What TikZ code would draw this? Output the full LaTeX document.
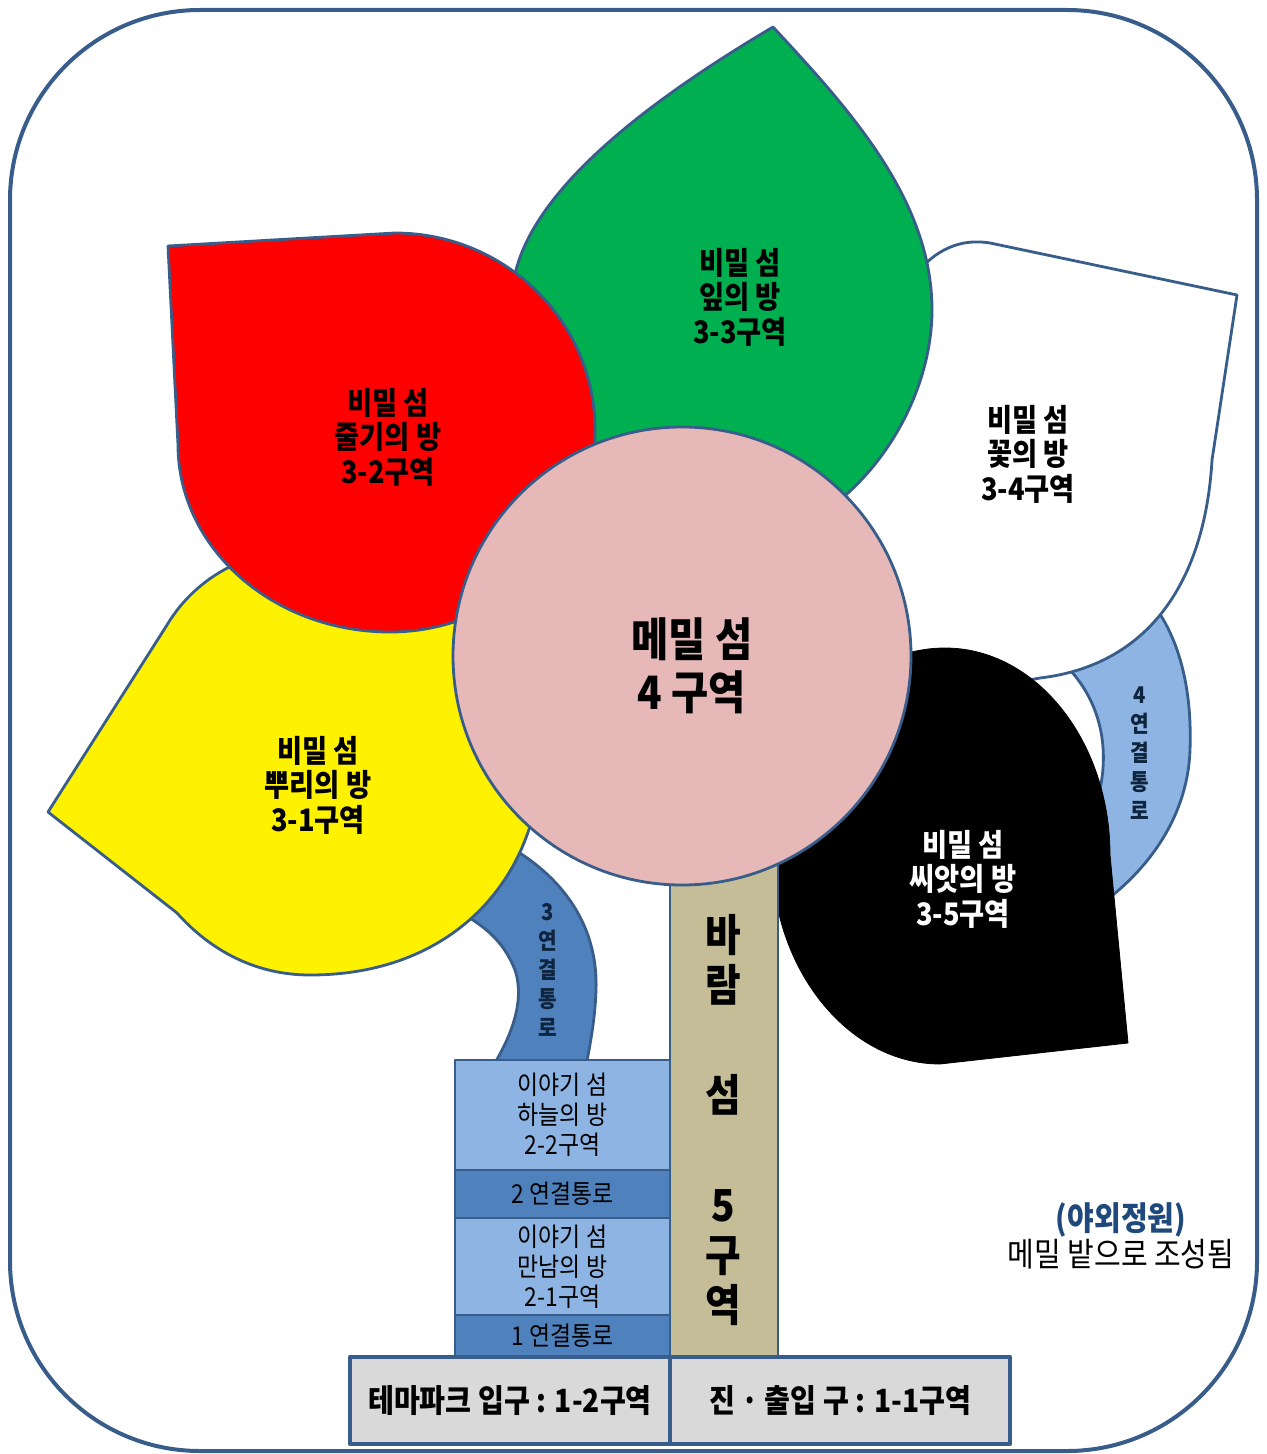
\documentclass[tikz,border=0pt]{standalone}
\usepackage{fontspec}
\setmainfont[FakeStretch=0.88]{Noto Sans CJK KR}
\definecolor{edgeblue}{RGB}{56,93,138}
\definecolor{leafgreen}{RGB}{0,176,80}
\definecolor{pinkc}{RGB}{230,185,184}
\definecolor{stemtan}{RGB}{196,189,151}
\definecolor{lblue}{RGB}{141,180,226}
\definecolor{mblue}{RGB}{79,129,189}
\definecolor{lgray}{RGB}{217,217,217}
\definecolor{navytxt}{RGB}{31,73,125}
\definecolor{darktxt}{RGB}{15,36,62}
\begin{document}
\begin{tikzpicture}[x=0.5pt,y=-0.5pt,line join=round,
  outl/.style={draw=edgeblue,line width=1.4pt},
  leaflbl/.style={align=center,font=\fontsize{15.5}{17.25}\selectfont\bfseries,inner sep=0},
  arclbl/.style={align=center,text=darktxt,font=\fontsize{11.5}{14.5}\selectfont\bfseries,inner sep=0},
  lbox/.style={draw=edgeblue,line width=1.2pt,minimum width=107.5pt,inner sep=0,outer sep=0,align=center,font=\fontsize{13}{15}\selectfont},
  gbox/.style={draw=edgeblue,line width=2.2pt,fill=lgray,minimum height=43.5pt,inner sep=0,outer sep=0,font=\fontsize{16}{18}\selectfont\bfseries}]
\useasboundingbox (0,0) rectangle (1266,1454);
% outer frame
\draw[edgeblue,line width=2pt,rounded corners=95pt] (10,10) rectangle (1257,1451);
% connector 3 (arc)
\draw[outl,fill=mblue] (490,860) -- (515,850) .. controls (572,885) and (598,935) .. (596,990)
  .. controls (595,1020) and (590,1045) .. (586,1066) -- (493,1066)
  .. controls (512,1035) and (525,1000) .. (515,970) .. controls (505,945) and (490,930) .. (465,915) -- cycle;
% connector 4 (arc)
\draw[outl,fill=lblue] (1060,660) -- (1150,600) .. controls (1182,640) and (1192,695) .. (1190,750)
  .. controls (1188,810) and (1155,865) .. (1100,905) -- (1090,820)
  .. controls (1112,770) and (1110,705) .. (1060,660) -- cycle;
% white leaf 3-4
\draw[outl,fill=white] (915,275) .. controls (935,250) and (960,238) .. (990,243) -- (1237,295) -- (1212,460)
  .. controls (1205,580) and (1150,665) .. (1040,678) .. controls (980,690) and (930,680) .. (900,640)
  -- (820,500) -- (850,300) -- cycle;
% green leaf 3-3
\draw[outl,fill=leafgreen] (773,27) .. controls (850,110) and (932,200) .. (932,310)
  .. controls (932,420) and (840,545) .. (722,545) .. controls (610,545) and (512,420) .. (512,300)
  .. controls (512,200) and (650,100) .. (773,27) -- cycle;
% yellow leaf 3-1
\draw[outl,fill=yellow] (48,812) -- (167,625) .. controls (200,570) and (260,545) .. (330,545)
  .. controls (450,545) and (540,650) .. (540,760) .. controls (540,870) and (460,975) .. (310,975)
  .. controls (255,975) and (210,950) .. (177,913) -- cycle;
% red leaf 3-2
\draw[outl,fill=red] (168,246) -- (395,233) .. controls (505,233) and (595,321) .. (595,430)
  .. controls (595,542) and (503,632) .. (390,632) .. controls (273,632) and (178,548) .. (178,445) -- cycle;
% black leaf 3-5
\draw[draw=black,fill=black] (945,648) .. controls (1036,648) and (1110,741) .. (1110,855) -- (1128,1043) -- (940,1064)
  .. controls (848,1064) and (772,969) .. (772,855) .. controls (772,741) and (852,648) .. (945,648) -- cycle;
% stem
\node[draw=edgeblue,line width=1.2pt,fill=stemtan,minimum width=54pt,minimum height=253.5pt,inner sep=0] (stem) at (724,1103.5) {};
% centre circle
\node[circle,draw=edgeblue,line width=1.4pt,fill=pinkc,minimum size=229pt,inner sep=0] (mem) at (682,656) {};
% left boxes
\node[lbox,fill=lblue,minimum height=55pt] (b22) at (562.5,1115) {이야기 섬\\하늘의 방\\2-2구역};
\node[lbox,fill=mblue,minimum height=24pt] (c2) at (562.5,1194) {2 연결통로};
\node[lbox,fill=lblue,minimum height=48.5pt] (b21) at (562.5,1266.5) {이야기 섬\\만남의 방\\2-1구역};
\node[lbox,fill=mblue,minimum height=21pt] (c1) at (562.5,1336) {1 연결통로};
% bottom boxes
\node[gbox,minimum width=160pt] (e12) at (510,1400.5) {테마파크 입구 : 1-2구역};
\node[gbox,minimum width=170pt] (e11) at (840,1400.5) {진 · 출입 구 : 1-1구역};
% labels
\node[leaflbl] (t33) at (740,297) {비밀 섬\\잎의 방\\3-3구역};
\node[leaflbl] (t32) at (388,437) {비밀 섬\\줄기의 방\\3-2구역};
\node[leaflbl] (t34) at (1028,454) {비밀 섬\\꽃의 방\\3-4구역};
\node[leaflbl] (t31) at (318,785) {비밀 섬\\뿌리의 방\\3-1구역};
\node[leaflbl,text=white] (t35) at (963,879) {비밀 섬\\씨앗의 방\\3-5구역};
\node[align=center,inner sep=0,font=\fontsize{23}{26.5}\selectfont\bfseries] (t4) at (692,666) {메밀 섬\\4 구역};
\node[align=center,inner sep=0,font=\fontsize{22}{25}\selectfont\bfseries] (t5) at (723,1120) {바\\람\\[30pt]섬\\[30pt]5\\구\\역};
\node[arclbl] (t3c) at (548,970) {3\\연\\결\\통\\로};
\node[arclbl] (t4c) at (1140,753) {4\\연\\결\\통\\로};
\node[align=center,inner sep=0,font=\fontsize{16.5}{18}\selectfont] (og) at (1121,1236) {{\color{navytxt}\bfseries (야외정원)}\\메밀 밭으로 조성됨};
\end{tikzpicture}
\end{document}
